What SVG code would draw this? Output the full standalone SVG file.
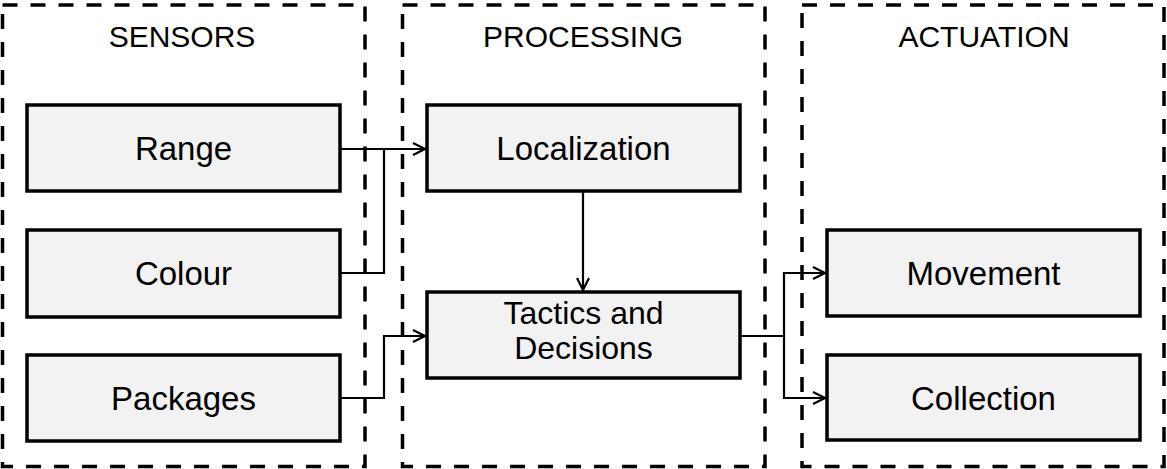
<svg xmlns="http://www.w3.org/2000/svg" width="1167" height="469" viewBox="0 0 1167 469">
  <style>
    .group { fill: none; stroke: #000; stroke-width: 3.5; stroke-dasharray: 15 13; }
    .box { fill: #f2f2f2; stroke: #000; stroke-width: 3.5; }
    .head { font-family: "Liberation Sans", Arial, sans-serif; font-size: 30px; fill: #000; text-anchor: middle; }
    .label { font-family: "Liberation Sans", Arial, sans-serif; font-size: 33px; fill: #000; text-anchor: middle; }
    .label2 { font-family: "Liberation Sans", Arial, sans-serif; font-size: 32px; fill: #000; text-anchor: middle; }
    .conn { fill: none; stroke: #000; stroke-width: 2.2; }
  </style>
  <defs>
    <marker id="arrow" viewBox="0 0 14 14" refX="13" refY="7" markerWidth="14" markerHeight="14" markerUnits="userSpaceOnUse" orient="auto">
      <path d="M1,1 L13,7 L1,13" fill="none" stroke="#000" stroke-width="2.2"/>
    </marker>
  </defs>
  <rect width="1167" height="469" fill="#fff"/>

  <g id="sensors">
    <rect class="group" x="2.5" y="5" width="362.5" height="461.5"/>
    <text class="head" x="182" y="47">SENSORS</text>
  </g>
  <g id="processing">
    <rect class="group" x="402.5" y="5" width="362.5" height="461.5"/>
    <text class="head" x="583" y="47">PROCESSING</text>
  </g>
  <g id="actuation">
    <rect class="group" x="802" y="5" width="362" height="461.5"/>
    <text class="head" x="984" y="47">ACTUATION</text>
  </g>

  <g id="range">
    <rect class="box" x="27" y="105" width="313" height="86"/>
    <text class="label" x="183.5" y="160">Range</text>
  </g>
  <g id="colour">
    <rect class="box" x="27" y="230" width="313" height="87"/>
    <text class="label" x="183.5" y="285">Colour</text>
  </g>
  <g id="packages">
    <rect class="box" x="27" y="355" width="313" height="86"/>
    <text class="label" x="183.5" y="410">Packages</text>
  </g>
  <g id="localization">
    <rect class="box" x="427" y="105" width="313" height="86"/>
    <text class="label" x="583.5" y="160">Localization</text>
  </g>
  <g id="tactics">
    <rect class="box" x="427" y="292" width="313" height="86"/>
    <text class="label2" x="583.5" y="324">Tactics and</text>
    <text class="label2" x="583.5" y="359">Decisions</text>
  </g>
  <g id="movement">
    <rect class="box" x="827" y="230" width="313" height="86"/>
    <text class="label" x="983.5" y="285">Movement</text>
  </g>
  <g id="collection">
    <rect class="box" x="827" y="355" width="313" height="85"/>
    <text class="label" x="983.5" y="410">Collection</text>
  </g>

  <g id="connectors">
    <path class="conn" d="M340,149 H425" marker-end="url(#arrow)"/>
    <path class="conn" d="M340,273 H384 V149"/>
    <path class="conn" d="M340,398 H384 V336 H425" marker-end="url(#arrow)"/>
    <path class="conn" d="M583,191 V290" marker-end="url(#arrow)"/>
    <path class="conn" d="M740,336 H784"/>
    <path class="conn" d="M784,336 V273 H825" marker-end="url(#arrow)"/>
    <path class="conn" d="M784,336 V398 H825" marker-end="url(#arrow)"/>
  </g>
</svg>
